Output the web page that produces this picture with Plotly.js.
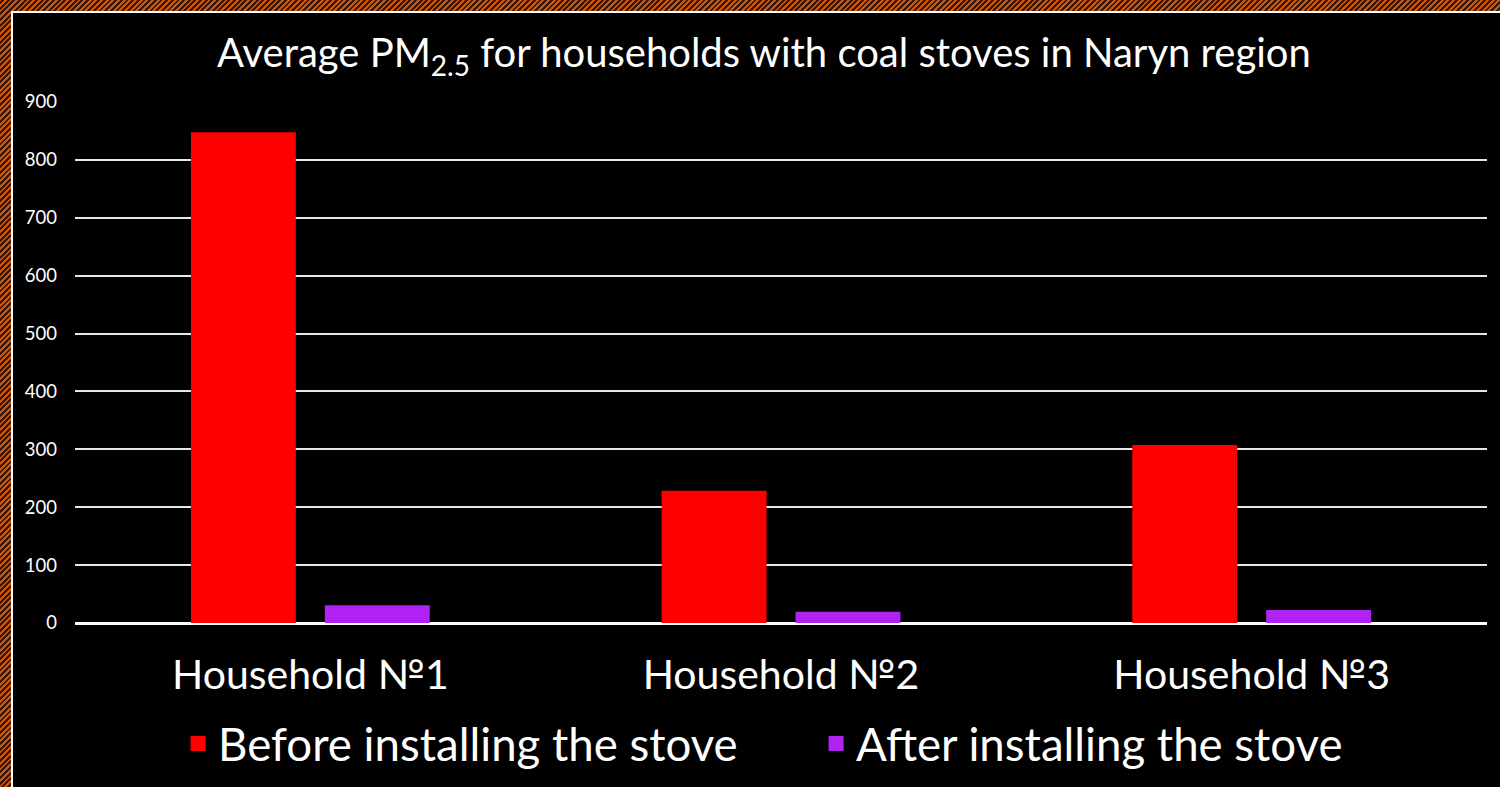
<!DOCTYPE html>
<html>
<head>
<meta charset="utf-8">
<script src="https://cdn.plot.ly/plotly-3.0.1.min.js"></script>
<style>
  html, body { margin: 0; padding: 0; }
  #frame {
    position: relative; width: 1500px; height: 787px; overflow: hidden;
    background: repeating-linear-gradient(-45deg, #c9580f 0px, #c9580f 2px, #3b1606 2px, #3b1606 4px);
  }
  #chart {
    position: absolute; left: 11px; top: 11px; width: 1487px; height: 774px;
    border-left: 2px solid #ffffff; border-top: 2px solid #ffffff; background: #000;
  }
</style>
</head>
<body>
<div id="frame"><div id="chart"></div></div>
<script>
const categories = ["Household №1", "Household №2", "Household №3"];
const seriesNames = ["Before installing the stove", "After installing the stove"];
const beforeValues = [845, 226, 305];
const afterValues = [28, 17, 20];
const yTicks = [0, 100, 200, 300, 400, 500, 600, 700, 800, 900];
const colors = ["#ff0000", "#b023f2"];

const FONT = "Lato, 'Noto Sans', sans-serif";

const traces = [
  { type: "bar", name: seriesNames[0], x: categories, y: beforeValues,
    marker: { color: colors[0], line: { color: colors[0], width: 3 } } },
  { type: "bar", name: seriesNames[1], x: categories, y: afterValues,
    marker: { color: colors[1], line: { color: colors[1], width: 3 } } }
];

const layout = {
  width: 1487, height: 774,
  paper_bgcolor: "#000000", plot_bgcolor: "#000000",
  margin: { l: 62, r: 13, t: 89, b: 164, autoexpand: false },
  title: { text: "Average PM<sub>2.5</sub> for households with coal stoves in Naryn region",
           font: { family: FONT, size: 40, color: "#ffffff" },
           x: 0.505, xanchor: "center", y: 0.948, yanchor: "middle", automargin: false },
  barmode: "group", bargap: 0.431, bargroupgap: 0.239,
  xaxis: { type: "category", showgrid: false, zeroline: false, showline: false, ticks: "",
           automargin: false, ticklabelstandoff: 24,
           tickfont: { family: FONT, size: 41, color: "#ffffff" } },
  yaxis: { range: [0, 900], tickvals: yTicks, ticktext: yTicks.map(String),
           showgrid: true, gridcolor: "#e6e6e6", gridwidth: 2,
           zeroline: true, zerolinecolor: "#ffffff", zerolinewidth: 3,
           showline: false, ticks: "", ticklabelstandoff: 17, automargin: false,
           tickfont: { family: FONT, size: 18.5, color: "#ffffff" } },
  showlegend: true,
  legend: { orientation: "h", x: 0.073, xanchor: "left", y: -0.232, yanchor: "middle",
            entrywidth: 593, entrywidthmode: "pixels",
            font: { family: FONT, size: 45.6, color: "#ffffff" }, bgcolor: "rgba(0,0,0,0)" }
};

Plotly.newPlot("chart", traces, layout, { displayModeBar: false, staticPlot: true });
</script>
</body>
</html>
